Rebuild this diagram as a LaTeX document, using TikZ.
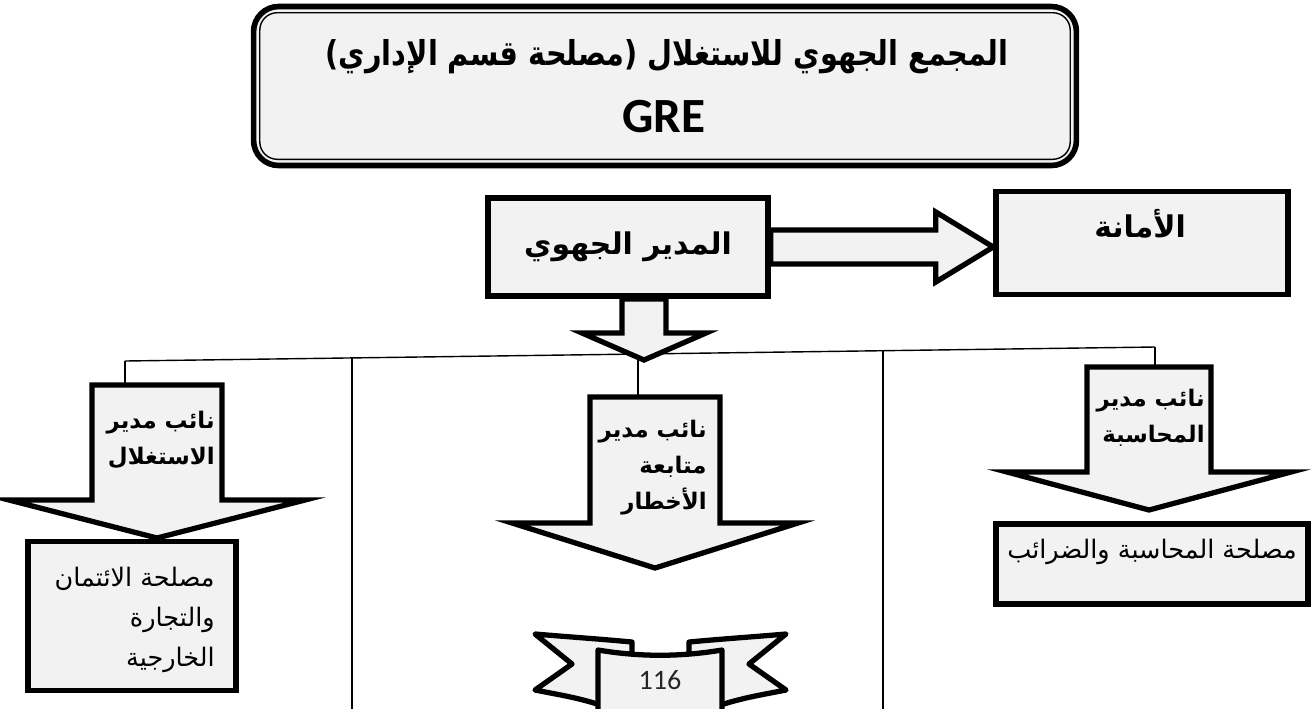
\documentclass[tikz,border=0pt]{standalone}
\usepackage{fontspec}
\usetikzlibrary{calc,backgrounds}
\TeXXeTstate=1
\newfontfamily\arabicfont[Script=Arabic]{DejaVu Sans}
\newfontfamily\arabictitle[Script=Arabic,FakeStretch=0.84]{DejaVu Sans}
\newfontfamily\calibri{Carlito}
\definecolor{boxgray}{RGB}{242,242,242}
\definecolor{numgray}{RGB}{38,38,38}
\newcommand{\arl}[1]{\beginR #1\endR}
% block arrow pointing down: name, centre x, top y, half shaft, wing y, half wing, tip y
\newcommand{\blockdown}[7]{
  \coordinate (#1) at (#2,#3);
  \draw[blockarrow] (#2-#4,#3) -- (#2-#4,#5) -- (#2-#6,#5) -- (#2,#7)
    -- (#2+#6,#5) -- (#2+#4,#5) -- (#2+#4,#3) -- cycle;
}

\begin{document}
\begin{tikzpicture}[x=0.02cm,y=-0.02cm]

%
% Styles
%
\tikzstyle{box} = [rectangle,draw=black,fill=boxgray,line width=3.2pt,inner sep=0pt]
\tikzstyle{blockarrow} = [draw=black,fill=boxgray,line width=3pt,line join=miter]
\tikzstyle{ribbon} = [draw=black,fill=boxgray,line width=3pt,line join=round]
\tikzstyle{link} = [draw=black,line width=0.8pt]
\tikzstyle{boldtext} = [font=\arabicfont\bfseries\fontsize{13}{20.5}\selectfont,align=right,inner sep=0pt]
\tikzstyle{plaintext} = [font=\arabicfont\fontsize{14.5}{22.7}\selectfont,align=right,inner sep=0pt]

\useasboundingbox (0,0) rectangle (1314,708);

% title
\node[box,rounded corners=0.5cm,minimum width=16.46cm,minimum height=3.18cm] (title) at (665,86) {};
\draw[line width=0.8pt,rounded corners=0.35cm] ([shift={(9,9)}]title.north west) rectangle ([shift={(-9,-9)}]title.south east);
\node[font=\arabictitle\bfseries\fontsize{19.5}{24}\selectfont] (titletext) at (667,57) {)\arl{مصلحة قسم الإداري}( \arl{المجمع الجهوي للاستغلال}};
\node[font=\calibri\bfseries\fontsize{28}{32}\selectfont] (gre) at (664,117) {GRE};

% director and secretariat
\node[box,minimum width=5.6cm,minimum height=1.96cm,font=\arabicfont\bfseries\fontsize{17}{20}\selectfont] (dir) at (628,247) {\arl{المدير الجهوي}};
\node[box,minimum width=5.84cm,minimum height=2.06cm] (amana) at (1142,243) {};
\node[font=\arabicfont\bfseries\fontsize{17}{20}\selectfont] (amanatext) at (1140,224) {\arl{الأمانة}};
\draw[blockarrow] (dir.east) ++(0,-17) -- ++(165,0) -- ++(0,-18) -- (amana.west |- dir.east)
  -- ($(dir.east)+(165,35)$) -- ++(0,-18) -- ($(dir.east)+(0,17)$) -- cycle;
\blockdown{dirdown}{644}{299}{22}{333}{62}{360}

% deputies
\blockdown{depl}{157}{385}{65}{500}{148}{538}
\blockdown{depm}{655}{397}{65}{523}{143}{568}
\blockdown{depr}{1149}{367}{62}{472}{142}{510}
\node[boldtext,anchor=east] (depltext) at (215,440) {\arl{نائب مدير}\\\arl{الاستغلال}};
\node[boldtext,anchor=east] (depmtext) at (707,468) {\arl{نائب مدير}\\\arl{متابعة}\\\arl{الأخطار}};
\node[boldtext,anchor=east] (deprtext) at (1205,418) {\arl{نائب مدير}\\\arl{المحاسبة}};

% services
\node[box,minimum width=4.16cm,minimum height=2.98cm] (lbox) at (132,616) {};
\node[plaintext,anchor=east] (lboxtext) at (215,620) {\arl{مصلحة الائتمان}\\\arl{والتجارة}\\\arl{الخارجية}};
\node[box,minimum width=6.24cm,minimum height=1.6cm] (rbox) at (1152,564) {};
\node[plaintext] (rboxtext) at ($(rbox.north)+(0,31)$) {\arl{مصلحة المحاسبة والضرائب}};

% page number ribbon
\draw[ribbon] (535,634) .. controls (570,637) and (600,639) .. (632,642) -- (632,705)
  -- (600,705) .. controls (580,698) and (555,694) .. (535,690) -- (572,664) -- cycle;
\draw[ribbon] (786,634) .. controls (751,637) and (721,639) .. (689,642) -- (689,705)
  -- (721,705) .. controls (741,698) and (766,694) .. (786,690) -- (749,664) -- cycle;
\draw[ribbon] (598,715) -- (598,650) .. controls (640,657) and (680,657) .. (722,650) -- (722,715);
\node[font=\calibri\fontsize{16}{18}\selectfont,text=numgray] (num) at (660,680) {116};

% connectors
\begin{scope}[on background layer]
\coordinate (lj) at (125,361);
\coordinate (rj) at (1155,347);
\coordinate (midj) at (638,354);
\coordinate (sepl) at (352,358);
\coordinate (sepr) at (883,351);
\draw[link] (lj) -- (rj);
\draw[link] (lj) -- (lj |- depl);
\draw[link] (rj) -- (rj |- depr);
\draw[link] (midj) -- (midj |- depm);
\draw[link] (sepl) -- (sepl |- 0,710);
\draw[link] (sepr) -- (sepr |- 0,710);
\end{scope}

\end{tikzpicture}
\end{document}
